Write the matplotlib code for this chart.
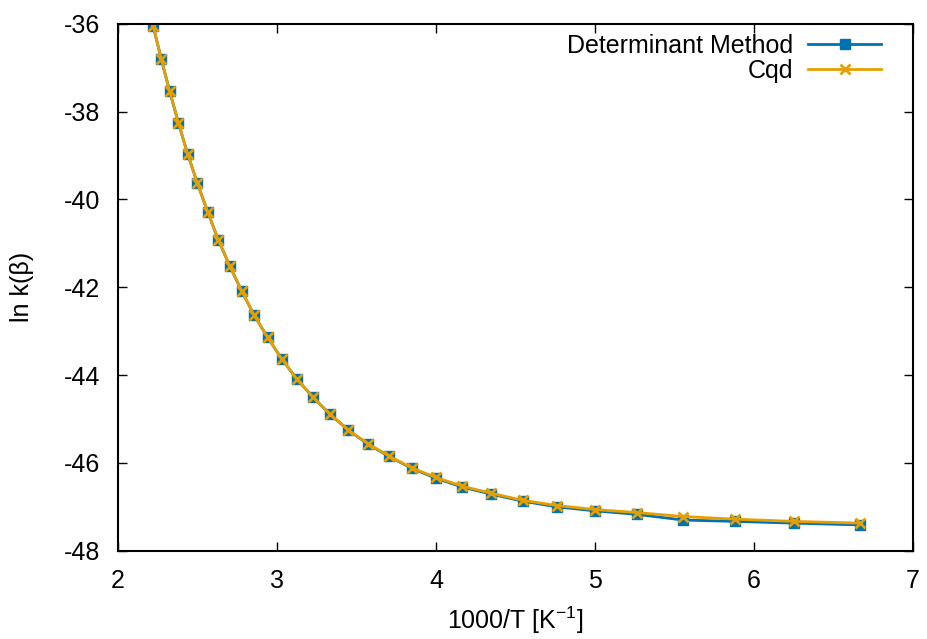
import numpy as np
import matplotlib
matplotlib.use("Agg")
import matplotlib.pyplot as plt

plt.rcParams['font.family'] = ['Liberation Sans', 'DejaVu Sans']
plt.rcParams['axes.unicode_minus'] = False
plt.rcParams['mathtext.default'] = 'regular'

# Temperaturen in K -> 1000/T
temps = [450, 440, 430, 420, 410, 400, 390, 380, 370, 360, 350, 340, 330, 320, 310,
         300, 290, 280, 270, 260, 250, 240, 230, 220, 210, 200, 190, 180, 170, 160, 150]

# ln k(beta), Cqd
lnk_cqd = [-36.06, -36.80, -37.54, -38.26, -38.97, -39.63, -40.28, -40.92, -41.51, -42.08,
           -42.64, -43.14, -43.63, -44.09, -44.50, -44.89, -45.25, -45.56, -45.84, -46.11,
           -46.33, -46.53, -46.69, -46.85, -46.97, -47.06, -47.13, -47.22, -47.28, -47.33, -47.37]

# ln k(beta), Determinant Method
lnk_det = [-36.06, -36.80, -37.54, -38.26, -38.97, -39.63, -40.28, -40.92, -41.51, -42.08,
           -42.64, -43.14, -43.63, -44.09, -44.50, -44.89, -45.25, -45.57, -45.85, -46.12,
           -46.35, -46.55, -46.71, -46.87, -47.00, -47.09, -47.17, -47.30, -47.33, -47.37, -47.41]

x = 1000.0 / np.array(temps)

fig = plt.figure(figsize=(9.28, 6.39), dpi=100)
ax = fig.add_axes([0.127, 0.138, 0.857, 0.825])

ax.plot(x, lnk_det, '-', color='#0072b2', lw=2, marker='s', ms=6.5, label='Determinant Method')
ax.plot(x, lnk_cqd, '-', color='#e69f00', lw=2, marker='x', ms=7, mew=2, label='Cqd')

ax.set_xlim(2, 7)
ax.set_ylim(-48, -36)
ax.set_xticks(range(2, 8))
ax.set_yticks(range(-48, -35, 2))
ax.tick_params(direction='in', length=6.5, width=1, labelsize=18,
               top=True, right=True)
ax.tick_params(axis='y', pad=13)
ax.tick_params(axis='x', pad=13)
for s in ax.spines.values():
    s.set_linewidth(1.5)

ax.set_xlabel('1000/T [K$^{-1}$]', fontsize=18, va='center')
ax.set_ylabel('ln k(β)', fontsize=18, va='center')
ax.xaxis.set_label_coords(0.5, -0.131)
ax.yaxis.set_label_coords(-0.121, 0.5)

ax.legend(loc='upper right', bbox_to_anchor=(0.972, 1.0), borderaxespad=0,
          frameon=False, markerfirst=False, fontsize=18,
          handlelength=2.9, labelspacing=0.05, handletextpad=0.6)

fig.savefig('out.png', dpi=100)
